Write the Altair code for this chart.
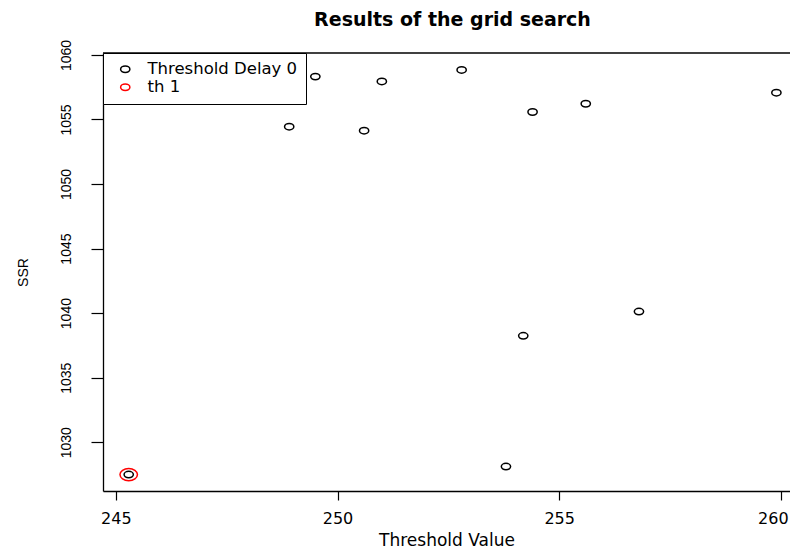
import altair as alt
import pandas as pd

# ---- data ----
threshold = [245.29, 248.91, 249.50, 250.60, 251.00, 252.80, 253.80, 254.19, 254.40, 255.60, 256.80, 259.90]
ssr = [1027.49, 1054.44, 1058.32, 1054.13, 1057.95, 1058.84, 1028.11, 1038.24, 1055.58, 1056.22, 1040.12, 1057.08]
series_names = ["Threshold Delay 0", "th 1"]
series_colors = ["black", "red"]
best_threshold = [245.29]
best_ssr = [1027.49]
x_ticks = [245, 250, 255, 260]
y_ticks = [1030, 1035, 1040, 1045, 1050, 1055, 1060]

ellipse = "M-1,0A1,0.7,0,1,0,1,0A1,0.7,0,1,0,-1,0Z"

df_all = pd.DataFrame({"threshold": threshold, "ssr": ssr, "series": series_names[0]})
df_best = pd.DataFrame({"threshold": best_threshold, "ssr": best_ssr, "series": series_names[1]})

x_enc = alt.X(
    "threshold:Q",
    scale=alt.Scale(domain=[244.71, 260.207], nice=False, zero=False),
    axis=alt.Axis(
        title="Threshold Value", values=x_ticks, format="d", grid=False,
        domain=True, domainColor="black", domainWidth=1.3,
        labelFont="DejaVu Sans", labelFontSize=16, labelBaseline="top",
        labelPadding=10.5, tickSize=9, labelFlush=False, labelOverlap=False,
        labelOffset={"condition": {"test": "datum.value === 260", "value": -8}, "value": 0},
        titleFont="DejaVu Sans", titleFontSize=17, titleFontWeight="normal",
        titleY=54, titleBaseline="alphabetic",
    ),
)
y_enc = alt.Y(
    "ssr:Q",
    scale=alt.Scale(domain=[1026.22, 1060.15], nice=False, zero=False),
    axis=alt.Axis(
        title="SSR", values=y_ticks, format="d", grid=False,
        domain=True, domainColor="black", domainWidth=1.3,
        labelFont="Liberation Sans", labelFontSize=14, labelAngle=270,
        labelAlign="center", labelBaseline="middle", labelPadding=25, tickSize=12,
        labelFlush=False, labelOverlap=False,
        titleFont="Liberation Sans", titleFontSize=14, titleFontWeight="normal",
        titleAngle=270, titleX=-80, titleBaseline="middle", titleAlign="center",
    ),
)
color_enc = alt.Color(
    "series:N",
    scale=alt.Scale(domain=series_names, range=series_colors),
    legend=alt.Legend(
        title=None, orient="top-left", offset=0, padding=8,
        fillColor="white", strokeColor="black",
        symbolType=ellipse, symbolSize=86, symbolStrokeWidth=1.5,
        symbolOffset=6, labelOffset=14, labelFont="DejaVu Sans",
        labelFontSize=16.5, labelColor="black", rowPadding=1, labelLimit=400,
    ),
)

pts = alt.Chart(df_all).mark_point(
    filled=False, shape=ellipse, size=86, strokeWidth=1.5, opacity=1
).encode(x=x_enc, y=y_enc, color=color_enc)

best = alt.Chart(df_best).mark_point(
    filled=False, shape=ellipse, size=306, strokeWidth=1.5, opacity=1
).encode(x=x_enc, y=y_enc, color=color_enc)

# top edge of the plot box (the right edge is cropped off in the reference)
top_edge = alt.Chart(pd.DataFrame({"edge": [0]})).mark_rule(
    color="black", strokeWidth=1.3
).encode(y=alt.value(0), x=alt.value(0), x2=alt.value(687))

chart = alt.layer(pts, best, top_edge).properties(
    width=687, height=438,
    title=alt.Title("Results of the grid search", font="DejaVu Sans", fontSize=19,
                    fontWeight="bold", anchor="middle", frame="group", offset=14,
                    baseline="alphabetic", dx=6, dy=20, color="black"),
    autosize=alt.AutoSizeParams(type="none"),
    padding={"left": 95, "top": 45, "right": 0, "bottom": 58},
    background="white",
).configure_view(stroke=None).configure_axis(
    grid=False, tickColor="black", tickWidth=1.2,
    labelColor="black", titleColor="black", titleFontWeight="normal",
)

chart.save("out.html", embed_options={"renderer": "svg", "actions": False})
